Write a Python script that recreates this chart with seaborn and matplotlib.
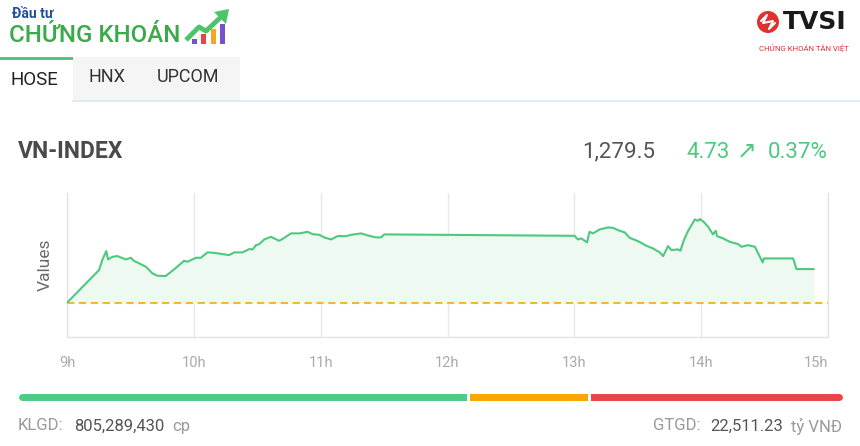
import matplotlib
matplotlib.use("Agg")
import matplotlib.pyplot as plt
import seaborn as sns
import pandas as pd
from matplotlib.patches import Rectangle, Circle, Polygon

# intraday VN-INDEX
times = ["09:00:00", "09:15:10", "09:16:40", "09:18:35", "09:19:25", "09:21:30", "09:23:50",
         "09:27:50", "09:30:10", "09:31:40", "09:37:20", "09:40:25", "09:42:50", "09:46:40",
         "09:50:40", "09:55:25", "09:57:00", "10:01:00", "10:03:20", "10:06:25", "10:09:35",
         "10:13:35", "10:16:40", "10:19:05", "10:23:00", "10:26:10", "10:27:50", "10:29:25",
         "10:30:55", "10:33:20", "10:36:30", "10:38:00", "10:40:25", "10:42:50", "10:45:55",
         "10:49:55", "10:53:50", "10:56:10", "10:59:20", "11:01:40", "11:04:55", "11:08:00",
         "11:12:00", "11:14:25", "11:19:05", "11:23:00", "11:26:10", "11:28:35", "11:30:05",
         "13:00:05", "13:01:40", "13:03:20", "13:04:55", "13:06:00", "13:07:10", "13:08:50",
         "13:12:00", "13:15:55", "13:18:20", "13:20:35", "13:23:50", "13:26:10", "13:30:05",
         "13:34:05", "13:37:10", "13:40:25", "13:42:00", "13:44:20", "13:45:55", "13:49:05",
         "13:50:10", "13:51:50", "13:53:50", "13:55:25", "13:57:00", "13:58:30", "13:59:20",
         "14:01:10", "14:03:20", "14:05:35", "14:06:55", "14:07:30", "14:10:25", "14:13:30",
         "14:17:30", "14:19:05", "14:22:10", "14:25:25", "14:27:00", "14:29:05", "14:29:40",
         "14:43:30", "14:45:05", "14:53:20"]
values = [1274.77, 1279.36, 1280.77, 1282.03, 1280.86, 1281.23, 1281.33,
          1280.86, 1281.09, 1280.67, 1279.83, 1278.90, 1278.56, 1278.52,
          1279.46, 1280.67, 1280.53, 1281.09, 1281.09, 1281.85, 1281.79,
          1281.61, 1281.47, 1281.85, 1281.85, 1282.31, 1282.27, 1282.87,
          1283.01, 1283.67, 1284.04, 1283.81, 1283.48, 1283.90, 1284.52,
          1284.52, 1284.74, 1284.42, 1284.32, 1283.96, 1283.67, 1284.14,
          1284.14, 1284.32, 1284.52, 1284.18, 1283.96, 1283.96, 1284.38,
          1284.18, 1283.67, 1283.81, 1283.48, 1283.25, 1284.74, 1284.52,
          1285.08, 1285.36, 1285.30, 1284.98, 1284.66, 1283.90, 1283.44,
          1282.78, 1282.41, 1281.85, 1281.33, 1282.73, 1282.17, 1282.27,
          1282.07, 1283.58, 1284.88, 1285.68, 1286.48, 1286.29, 1286.53,
          1286.15, 1285.44, 1284.38, 1284.88, 1284.14, 1283.81, 1283.34,
          1283.01, 1282.64, 1282.87, 1282.64, 1281.71, 1280.44, 1281.00,
          1281.00, 1279.50, 1279.50]
ref_value = 1274.77

index_name = "VN-INDEX"
last_value = "1,279.5"
change = "4.73"
change_pct = "0.37%"
tabs = ["HOSE", "HNX", "UPCOM"]
hour_labels = ["9h", "10h", "11h", "12h", "13h", "14h", "15h"]
breadth = [238, 63, 133]          # up / unchanged / down
breadth_colors = ["#4ECB84", "#F7A800", "#E84545"]
klgd = "805,289,430"
gtgd = "22,511.23"

green = "#4CC97F"

sns.set_theme(style="white")
plt.rcParams['font.family'] = ['Roboto', 'DejaVu Sans']

fig = plt.figure(figsize=(8.6, 4.46), dpi=100)
fig.patch.set_facecolor("white")

# background axes in pixel coords (y down)
bg = fig.add_axes([0, 0, 1, 1])
bg.set_xlim(0, 860)
bg.set_ylim(446, 0)
bg.axis("off")

# ---- logo top left
bg.text(12, 14, "Đầu tư", fontsize=10, fontweight="bold", color="#1E4F9E", va="center")
bg.text(9, 35, "CHỨNG KHOÁN", fontsize=17.3, fontweight="medium", color="#3BAA4B", va="center")
for bx, bh, bc in [(192, 5, "#7B4FC9"), (201, 10, "#E84545"), (211, 15, "#F5A623"), (220, 20, "#7B4FC9")]:
    bg.add_patch(Rectangle((bx, 44 - bh), 4.5, bh, color=bc, lw=0))
bg.plot([186, 199, 206, 221], [40, 27, 31, 17], color="#4CC46A", lw=3.5, solid_capstyle="butt")
bg.add_patch(Polygon([(229, 9), (214, 12), (226, 24)], closed=True, color="#4CC46A", lw=0))

# ---- TVSI logo
bg.add_patch(Circle((768, 22), 11, color="#E0312F", lw=0))
bg.plot([761, 767, 763, 773, 769, 775], [21, 15, 23, 21, 29, 23], color="white", lw=1.5)
bg.text(783, 22, "TVSI", fontsize=18, fontweight="bold", color="#1A1A1A", va="center",
        family="DejaVu Sans")
bg.text(804, 47, "CHỨNG KHOÁN TÂN VIỆT", fontsize=5.6, color="#E0312F", va="center", ha="center")

# ---- tabs
bg.add_patch(Rectangle((73, 57), 167, 43, color="#F5F5F5", lw=0))
bg.add_patch(Rectangle((0, 57), 73, 3, color=green, lw=0))
bg.plot([73, 860], [100.5, 100.5], color="#E1EBF6", lw=1.5)
bg.text(10, 80, tabs[0], fontsize=13.5, color="#222222", va="center")
bg.text(88, 77, tabs[1], fontsize=13, color="#333333", va="center")
bg.text(157, 77, tabs[2], fontsize=13, color="#333333", va="center")

# ---- header
bg.text(18, 152, index_name, fontsize=16.5, fontweight="bold", color="#4A4A4A", va="center")
bg.text(655, 152, last_value, fontsize=16, color="#555555", va="center", ha="right")
bg.text(686, 152, change, fontsize=16, color=green, va="center")
bg.text(747, 151, "↗", fontsize=17, color=green, va="center", ha="center")
bg.text(828, 152, change_pct, fontsize=16, color=green, va="center", ha="right")

# ---- breadth bar
left, right, gap = 18, 842, 3
usable = right - left - gap * (len(breadth) - 1)
x0 = left
for i, (n, c) in enumerate(zip(breadth, breadth_colors)):
    w = usable * n / sum(breadth)
    if i == 0:
        bg.plot([x0 + 3.5, x0 + w - 3.5], [397, 397], color=c, lw=5, solid_capstyle="round")
        bg.add_patch(Rectangle((x0 + w - 6, 393.5), 6, 7, color=c, lw=0))
    elif i == len(breadth) - 1:
        bg.plot([x0 + 3.5, x0 + w - 3.5], [397, 397], color=c, lw=5, solid_capstyle="round")
        bg.add_patch(Rectangle((x0, 393.5), 6, 7, color=c, lw=0))
    else:
        bg.add_patch(Rectangle((x0, 393.5), w, 7, color=c, lw=0))
    x0 += w + gap

# ---- footer
bg.text(18, 426, "KLGD:", fontsize=12, color="#999999", va="center")
bg.text(74, 426, klgd, fontsize=12, color="#555555", va="center")
bg.text(172, 426, "cp", fontsize=12, color="#999999", va="center")
bg.text(842, 426, "tỷ VNĐ", fontsize=12, color="#999999", va="center", ha="right")
bg.text(783, 426, gtgd, fontsize=12, color="#555555", va="center", ha="right")
bg.text(701, 426, "GTGD:", fontsize=12, color="#999999", va="center", ha="right")

# ---- chart
ax = fig.add_axes([67 / 860, 1 - 337 / 446, 761 / 860, 144 / 446])
t = pd.to_datetime(times, format="%H:%M:%S")
minutes = (t - pd.Timestamp("1900-01-01 09:00:00")).total_seconds() / 60
df = pd.DataFrame({"minute": minutes, "value": values})

ax.fill_between(df["minute"], df["value"], ref_value, color="#EDF9F1", lw=0, zorder=1)
sns.lineplot(data=df, x="minute", y="value", ax=ax, color=green, lw=1.5,
             estimator=None, zorder=3)
ax.axhline(ref_value, color="#F5B731", lw=1.5, ls=(0, (3.5, 2.2)), zorder=2)

ax.set_xlim(0, 360)
ax.set_ylim(1269.95, 1290.2)
ax.set_xticks(range(0, 361, 60))
ax.set_xticklabels(hour_labels)
ax.set_yticks([])
ax.grid(axis="x", color="#E8E8E8", lw=1)
ax.set_axisbelow(True)
ax.tick_params(axis="x", length=0, pad=14, labelcolor="#AAAAAA", labelsize=10.5)
ax.get_xticklabels()[-1].set_ha("right")
ax.set_xlabel("")
ax.set_ylabel("Values", fontsize=12.5, color="#6A6A6A")
ax.yaxis.set_label_coords(-0.0184, 0.5)
ax.spines["top"].set_visible(False)
for s in ["left", "right", "bottom"]:
    ax.spines[s].set_color("#E4E4E4")
    ax.spines[s].set_linewidth(1)
ax.set_facecolor("white")

fig.savefig("out.png", dpi=100)
